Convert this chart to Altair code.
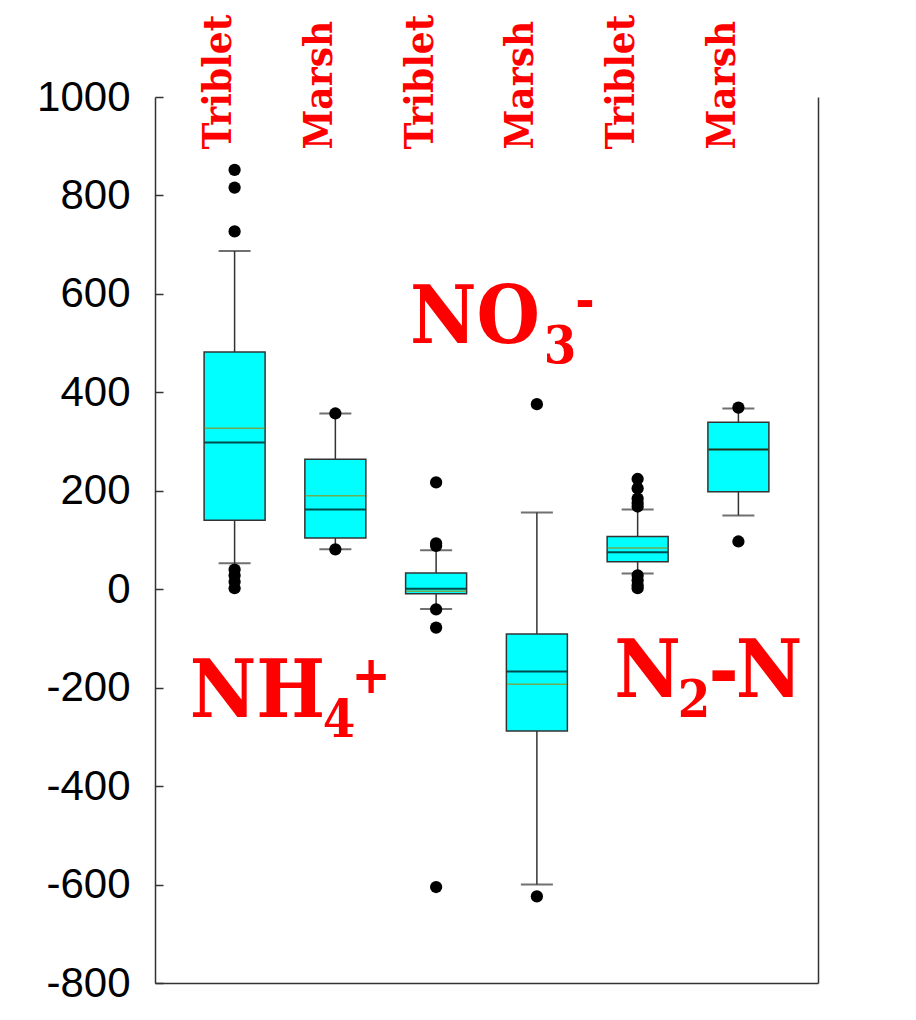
import altair as alt
import pandas as pd

# ---- data ----
groups = ["NH4 Triblet", "NH4 Marsh", "NO3 Triblet", "NO3 Marsh", "N2 Triblet", "N2 Marsh"]
whisker_low = [53, 81, -40, -600, 32, 150]
q1 = [140, 104, -9, -288, 56, 198]
median = [298, 162, 1, -167, 75, 284]
mean = [327, 190, -4, -193, 84, 284]
q3 = [482, 264, 33, -91, 107, 339]
whisker_high = [687, 357, 79, 156, 162, 367]

outlier_group = (["NH4 Triblet"] * 7 + ["NH4 Marsh"] * 2 + ["NO3 Triblet"] * 6
                 + ["NO3 Marsh"] * 2 + ["N2 Triblet"] * 9 + ["N2 Marsh"] * 2)
outlier_value = ([852, 816, 727, 40, 28, 15, 2]
                 + [357, 81]
                 + [217, 93, 88, -41, -78, -605]
                 + [376, -624]
                 + [224, 205, 184, 175, 168, 28, 18, 8, 2]
                 + [369, 97])

y_ticks = [-800, -600, -400, -200, 0, 200, 400, 600, 800, 1000]

stats = pd.DataFrame({"group": groups, "lo": whisker_low, "q1": q1, "median": median,
                      "mean": mean, "q3": q3, "hi": whisker_high})
outliers = pd.DataFrame({"group": outlier_group, "value": outlier_value})

W, H = 663, 886
xscale = alt.Scale(type="point", domain=groups, padding=0.79)
yscale = alt.Scale(domain=[-800, 1000], nice=False, zero=False)

DARK = "#333333"
SERIF = "DejaVu Serif Condensed, DejaVu Serif"

# whiskers + main axes (left labels, top category labels)
whiskers = alt.Chart(stats).mark_rule(color=DARK, strokeWidth=1.5).encode(
    x=alt.X("group:N", scale=xscale, sort=groups, title=None,
            axis=alt.Axis(orient="top", domain=False, ticks=False, tickSize=0,
                          labelAngle=270, labelAlign="left", labelBaseline="alphabetic",
                          labelPadding=-52, labelOffset=-4, labelFont=SERIF,
                          labelFontWeight="bold",
                          labelFontSize=40, labelColor="#ff0000", labelOverlap=False,
                          labelExpr="split(datum.value, ' ')[1]", grid=False)),
    y=alt.Y("lo:Q", scale=yscale, title=None,
            axis=alt.Axis(orient="left", values=y_ticks, ticks=False, tickSize=0,
                          labelPadding=25, labelFont="Liberation Sans", labelFontSize=42,
                          labelColor="black", domainColor=DARK, domainWidth=1.5,
                          labelExpr="'' + datum.value",
                          grid=False, labelOverlap=False)),
    y2="hi:Q",
)

# whisker caps + inward ticks on the left axis
caps = alt.Chart(stats).transform_fold(["lo", "hi"], as_=["k", "v"]).mark_tick(
    color=DARK, size=32, thickness=2).encode(
    x=alt.X("group:N", scale=xscale, sort=groups, axis=None),
    y=alt.Y("v:Q", scale=yscale, title=None,
            axis=alt.Axis(orient="right", offset=-W, domain=False, labels=False,
                          ticks=True, tickSize=8, tickColor=DARK, tickWidth=1.5,
                          values=y_ticks, grid=False)),
)

# boxes + right and bottom frame lines
boxes = alt.Chart(stats).mark_bar(size=61, color="#00ffff", stroke=DARK, strokeWidth=1.5).encode(
    x=alt.X("group:N", scale=xscale, sort=groups, title=None,
            axis=alt.Axis(orient="bottom", domain=True, domainColor=DARK, domainWidth=1.5,
                          labels=False, ticks=False, grid=False)),
    y=alt.Y("q1:Q", scale=yscale, title=None,
            axis=alt.Axis(orient="right", domain=True, domainColor=DARK, domainWidth=1.5,
                          labels=False, ticks=False, grid=False)),
    y2="q3:Q",
)

means = alt.Chart(stats).mark_tick(color="#9c8a10", size=60, thickness=1.5).encode(
    x=alt.X("group:N", scale=xscale, sort=groups, axis=None),
    y=alt.Y("mean:Q", scale=yscale, axis=None),
)

medians = alt.Chart(stats).mark_tick(color="black", size=60, thickness=2).encode(
    x=alt.X("group:N", scale=xscale, sort=groups, axis=None),
    y=alt.Y("median:Q", scale=yscale, axis=None),
)

points = alt.Chart(outliers).mark_circle(size=150, color="black", opacity=1).encode(
    x=alt.X("group:N", scale=xscale, sort=groups, axis=None),
    y=alt.Y("value:Q", scale=yscale, axis=None),
)


def label(txt, x, y, size, baseline="alphabetic"):
    return alt.Chart(pd.DataFrame({"t": [txt]})).mark_text(
        font=SERIF, fontWeight="bold", fontSize=size, color="#ff0000",
        align="center", baseline=baseline).encode(
        text="t:N", x=alt.value(x), y=alt.value(y))


BIG, SMALL = 81, 52
annotations = [
    label("NH", 102.5, 620, BIG),
    label("4", 184, 640, SMALL),
    label("+", 216, 580, SMALL, "middle"),
    label("NO", 320, 246, BIG),
    label("3", 405, 266, SMALL),
    label("-", 430, 204.5, SMALL, "middle"),
    label("N", 492.5, 600, BIG),
    label("2", 539, 620, SMALL),
    label("-", 568.5, 600, BIG),
    label("N", 614, 600, BIG),
]

chart = alt.layer(whiskers, caps, boxes, means, medians, points, *annotations).resolve_axis(
    x="independent", y="independent"
).properties(
    width=W, height=H,
    autosize=alt.AutoSizeParams(type="none"),
    padding={"left": 147, "top": 89, "right": 60, "bottom": 26},
    background="white",
).configure_view(stroke=None)

chart.save("out.html", embed_options={"renderer": "svg", "actions": False})
